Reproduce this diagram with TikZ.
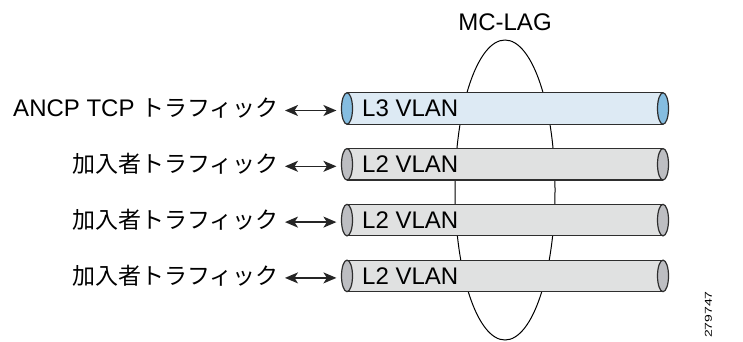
\documentclass[tikz,border=0pt]{standalone}
\usepackage{fontspec}
\setmainfont{Liberation Sans}
\newfontfamily\jp{Noto Sans CJK JP}
\usetikzlibrary{arrows.meta,shapes.geometric}
\definecolor{edge}{HTML}{2E2E2E}
\definecolor{bluebody}{HTML}{DDEAF4}
\definecolor{blueend}{HTML}{85BDE0}
\definecolor{graybody}{HTML}{E0E1E1}
\definecolor{grayend}{HTML}{BDBEC2}
\tikzset{
  lbl/.style={anchor=base east, inner sep=0pt, font=\fontsize{24}{24}\selectfont},
  tubetext/.style={anchor=base west, inner sep=0pt, font=\fontsize{24}{24}\selectfont},
  tubeend/.style={ellipse, draw=edge, line width=1.2pt, minimum width=11pt, minimum height=31.5pt, inner sep=0pt},
  arr/.style={>={Stealth[length=13pt,width=11pt,inset=3.5pt]}, <->, line width=1.6pt, draw=edge!80!black},
}
\begin{document}
\begin{tikzpicture}[x=1pt,y=-1pt]
\useasboundingbox (0,0) rectangle (743,341);
% MC-LAG ellipse (behind tubes)
\node[ellipse, draw=black, line width=1pt, minimum width=100pt, minimum height=300pt, inner sep=0pt] (lag) at (505,190) {};
\node[anchor=base, inner sep=0pt, font=\fontsize{24}{24}\selectfont] (lagtxt) at (505,30.7) {MC-LAG};
% tubes
\foreach \i/\body/\en/\txt/\lab in {
  1/bluebody/blueend/L3 VLAN/{ANCP TCP {\jp\fontsize{23}{23}\selectfont トラフィック}},
  2/graybody/grayend/L2 VLAN/{\jp\fontsize{23}{23}\selectfont 加入者トラフィック},
  3/graybody/grayend/L2 VLAN/{\jp\fontsize{23}{23}\selectfont 加入者トラフィック},
  4/graybody/grayend/L2 VLAN/{\jp\fontsize{23}{23}\selectfont 加入者トラフィック}}{
  \pgfmathsetmacro{\cy}{108.5+55.8*(\i-1)}
  \fill[\body] (347,\cy-15.75) rectangle (663,\cy+15.75);
  \draw[edge, line width=1.2pt] (347,\cy-15.75) -- (663,\cy-15.75) (347,\cy+15.75) -- (663,\cy+15.75);
  \node[tubeend, fill=\en] (l\i) at (347,\cy) {};
  \node[tubeend, fill=\en] (r\i) at (663,\cy) {};
  \node[tubetext] (t\i) at (362,\cy+8.4) {\txt};
  \node[lbl] (a\i) at (279,\cy+8.4) {\lab};
  \draw[arr, shorten <=6pt, shorten >=4.5pt] ([yshift=-2pt]l\i.west -| a\i.east) -- ([yshift=-2pt]l\i.west);
}
\node[anchor=north, inner sep=0pt] (fig) at (708.5,291) {\rotatebox{90}{\scalebox{1.4}[1]{\fontsize{10}{10}\selectfont 279747}}};
\end{tikzpicture}
\end{document}
